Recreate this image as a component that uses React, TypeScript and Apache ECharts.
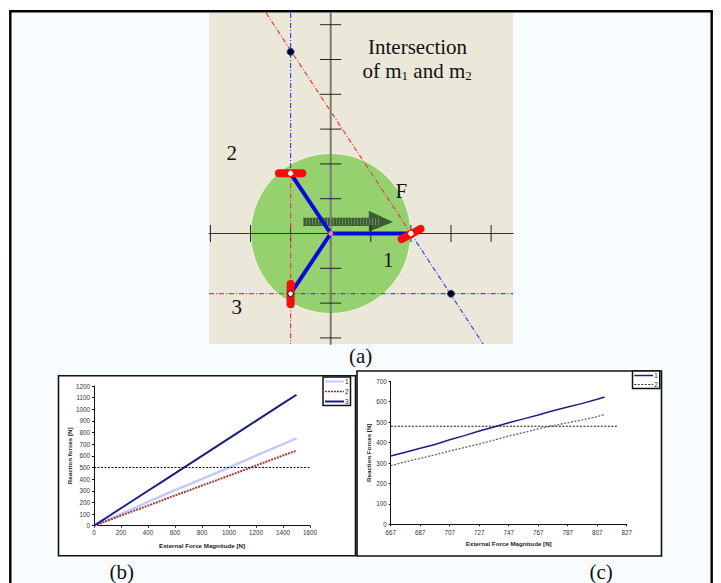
import React, { useEffect, useRef } from "react";
import * as echarts from "echarts";

// Chart (b)
const forceB = [0, 100, 200, 300, 400, 500, 600, 700, 800, 900, 1000, 1100, 1200, 1300, 1400, 1500];
const reaction1B = [0, 50, 102, 150, 205, 255, 305, 352, 402, 450, 500, 550, 602, 652, 700, 750];
const reaction2B = [0, 43, 87, 130, 172, 216, 260, 302, 345, 387, 430, 473, 517, 560, 603, 645];
const reaction3B = [0, 75, 150, 225, 300, 375, 450, 525, 600, 675, 750, 825, 900, 975, 1050, 1125];
const limitB = [[0, 500], [1600, 500]];

// Chart (c)
const forceC = [667, 677, 687, 697, 707, 717, 727, 737, 747, 757, 767, 777, 787, 797, 807, 812];
const reaction1C = [334, 353, 372, 391, 414, 434, 457, 476, 497, 516, 535, 556, 574, 592, 612, 623];
const reaction2C = [287, 306, 323, 340, 359, 376, 393, 412, 432, 449, 467, 483, 497, 511, 527, 538];
const limitC = [[660, 480], [821, 480]];
const ticksC = [667, 687, 707, 727, 747, 767, 787, 807, 827];

// Diagram (a), in axis units
const diagramXTicks = [-3, -2, -1, 1, 2, 3, 4];
const diagramYTicks = [-3, -2, -1, 1, 2, 3, 4, 5, 6];
const center = [0, 0];
const joint1 = [2, 0];
const joint2 = [-1, 1.73];
const joint3 = [-1, -1.73];
const slider1 = [[1.77, -0.16], [2.24, 0.13]];
const slider2 = [[-1.29, 1.73], [-0.71, 1.73]];
const slider3 = [[-1, -1.45], [-1, -2.03]];
const intersections = [[-1, 5.22], [3, -1.73]];
const redGuides = [
  [[-1, 1.73], [-1, -3.175]],
  [[-3.035, -1.73], [-1, -1.73]],
  [[-1.61, 6.336], [2, 0]],
];
const blueGuides = [
  [[-1, 6.336], [-1, 1.73]],
  [[-1, -1.73], [4.546, -1.73]],
  [[2, 0], [3.8, -3.175]],
];
const arrowOutline = [
  [-0.69, 0.454], [0.95, 0.454], [0.95, 0.655], [1.55, 0.33],
  [0.95, 0.05], [0.95, 0.216], [-0.69, 0.216],
];
const arrowHatch = [[-0.69, 0.335], [1.2, 0.335]];

const SANS = "Liberation Sans";
const SERIF = "Liberation Serif";

function guide(name: string, data: number[][], color: string, extra: object = {}) {
  return {
    type: "line", name, data, xAxisIndex: 2, yAxisIndex: 2, symbol: "none", silent: true,
    lineStyle: { color, width: 1.2, type: [5, 2, 1, 2] }, z: 4, ...extra,
  };
}

function thick(name: string, data: number[][], color: string, width: number, z: number) {
  return {
    type: "line", name, data, xAxisIndex: 2, yAxisIndex: 2, symbol: "none", silent: true, z,
    lineStyle: { color, width, cap: "round", type: "solid" },
  };
}

function dots(name: string, data: number[][], size: number, fill: string, stroke: string, z: number) {
  return {
    type: "scatter", name, data, xAxisIndex: 2, yAxisIndex: 2, symbol: "circle", symbolSize: size,
    silent: true, z, itemStyle: { color: fill, borderColor: stroke, borderWidth: 1, opacity: 1 },
  };
}

const plainNumber = (v: number) => String(v);

function chartAxis(gridIndex: number, name: string, nameGap: number, extra: object) {
  return {
    type: "value", gridIndex, name, nameLocation: "middle", nameGap,
    nameTextStyle: { fontFamily: SANS, fontSize: 6.2, fontWeight: "bold", color: "#222" },
    axisLine: { show: true, onZero: false, lineStyle: { color: "#111", width: 1 } },
    axisTick: { show: true, length: 2, lineStyle: { color: "#111", width: 1 } },
    axisLabel: { fontFamily: SANS, fontSize: 6.3, color: "#333", margin: 4, formatter: plainNumber },
    splitLine: { show: false },
    ...extra,
  };
}

function zip(xs: number[], ys: number[]) {
  return xs.map((x, i) => [x, ys[i]]);
}

function chartLine(name: string, data: number[][], axis: number, color: string, width: number, type: any = "solid") {
  return {
    type: "line", name, data, xAxisIndex: axis, yAxisIndex: axis, symbol: "none", z: 5,
    lineStyle: { color, width, type }, itemStyle: { color },
  };
}

const hiddenSymbol = { color: "transparent", borderWidth: 0, opacity: 0 };

function legendBase(left: number, top: number, gap: number) {
  return {
    show: true, left, top, orient: "vertical", itemWidth: 19, itemHeight: 6, itemGap: gap,
    padding: [1.5, 2, 1, 1], align: "left", backgroundColor: "#fff", borderColor: "#111", borderWidth: 1.5,
    borderRadius: 0, selectedMode: false, z: 20,
    textStyle: { fontFamily: SANS, fontSize: 6.3, color: "#222", padding: [0, 0, 0, -4] },
  };
}

const option: any = {
  animation: false,
  backgroundColor: "#ffffff",
  grid: [
    { left: 94, top: 386, width: 216, height: 139.7, containLabel: false },
    { left: 390.7, top: 381.3, width: 236, height: 143, containLabel: false },
    { left: 209, top: 13, width: 304, height: 331, show: true, backgroundColor: "#ebe8d9", borderWidth: 0 },
  ],
  xAxis: [
    chartAxis(0, "External Force Magnitude [N]", 17, { min: 0, max: 1600, interval: 200 }),
    chartAxis(1, "External Force Magnitude [N]", 16, {
      min: 667, max: 827,
      axisTick: { show: true, length: 2, customValues: ticksC, lineStyle: { color: "#111", width: 1 } },
      axisLabel: { fontFamily: SANS, fontSize: 6.3, color: "#333", margin: 5, customValues: ticksC, formatter: plainNumber },
    }),
    { type: "value", gridIndex: 2, min: -3.035, max: 4.546, show: false },
  ],
  yAxis: [
    chartAxis(0, "Reaction forces [N]", 21, { min: 0, max: 1200, interval: 100 }),
    chartAxis(1, "Reaction Forces [N]", 19, { min: 0, max: 700, interval: 100 }),
    { type: "value", gridIndex: 2, min: -3.175, max: 6.336, show: false },
  ],
  legend: [
    {
      ...legendBase(323, 377, 4),
      data: [
        { name: "1", itemStyle: hiddenSymbol, lineStyle: { color: "#c6c9f7", width: 2, type: "solid" } },
        { name: "2", itemStyle: hiddenSymbol, lineStyle: { color: "#a02828", width: 1.5, type: [2, 1] } },
        { name: "3", itemStyle: hiddenSymbol, lineStyle: { color: "#1a1f86", width: 2, type: "solid" } },
      ],
    },
    {
      ...legendBase(632.5, 371, 3),
      data: [
        { name: "1", itemStyle: hiddenSymbol, lineStyle: { color: "#1a1f86", width: 1.5, type: "solid" } },
        { name: "2", itemStyle: hiddenSymbol, lineStyle: { color: "#333", width: 1, type: [2, 1.5] } },
      ],
    },
  ],
  series: [
    // (b)
    chartLine("1", zip(forceB, reaction1B), 0, "#c6c9f7", 2.5),
    chartLine("2", zip(forceB, reaction2B), 0, "#a83a3a", 2, [2, 1]),
    chartLine("3", zip(forceB, reaction3B), 0, "#1a1f86", 2),
    chartLine("limit b", limitB, 0, "#111", 1, [2, 1.5]),
    // (c)
    chartLine("1", zip(forceC, reaction1C), 1, "#1a1f86", 1.5),
    chartLine("2", zip(forceC, reaction2C), 1, "#666", 1.3, [2, 1.5]),
    { ...chartLine("limit c", limitC, 1, "#111", 1, [2, 1.5]), clip: false },
    // (a)
    {
      type: "scatter", name: "workspace", data: [center], xAxisIndex: 2, yAxisIndex: 2, symbol: "circle",
      symbolSize: 160, silent: true, z: 2,
      itemStyle: { color: "#96d170", borderColor: "#f4f6e6", borderWidth: 1, opacity: 1 },
    },
    {
      type: "custom", name: "force", data: [center], xAxisIndex: 2, yAxisIndex: 2, silent: true, z: 3, clip: false,
      renderItem: (_p: any, api: any) => ({
        type: "polygon",
        shape: { points: arrowOutline.map((pt) => api.coord(pt)) },
        style: { fill: "#3d5c34" },
      }),
    },
    {
      type: "line", name: "force hatch", data: arrowHatch, xAxisIndex: 2, yAxisIndex: 2, symbol: "none", silent: true, z: 3,
      lineStyle: { color: "#6d8d5c", width: 7, type: [1, 2] },
    },
    thick("x axis", [[-3.035, 0], [4.546, 0]], "#333", 1, 3),
    thick("y axis", [[0, -3.175], [0, 6.336]], "#7a7a72", 2, 3),
    {
      type: "scatter", name: "x ticks", data: diagramXTicks.map((x) => [x, 0]), xAxisIndex: 2, yAxisIndex: 2,
      symbol: "rect", symbolSize: [1, 17], silent: true, z: 3, itemStyle: { color: "#222", opacity: 1 },
    },
    {
      type: "scatter", name: "y ticks", data: diagramYTicks.map((y) => [0, y]), xAxisIndex: 2, yAxisIndex: 2,
      symbol: "rect", symbolSize: [21, 1], silent: true, z: 3, itemStyle: { color: "#222", opacity: 1 },
    },
    ...redGuides.map((g, i) => guide("red guide " + i, g, "#f23a3a")),
    ...blueGuides.map((g, i) => guide("blue guide " + i, g, "#3a48ee")),
    thick("link 1", [center, joint1], "#0a0ad8", 4, 6),
    thick("link 2", [center, joint2], "#0a0ad8", 4, 6),
    thick("link 3", [center, joint3], "#0a0ad8", 4, 6),
    thick("slider 1", slider1, "#f80d0d", 8, 7),
    thick("slider 2", slider2, "#f80d0d", 8, 7),
    thick("slider 3", slider3, "#f80d0d", 8, 7),
    dots("joint 1", [joint1], 4.5, "#fff", "#fff", 8),
    dots("joint 2", [joint2], 4.5, "#fff", "#fff", 8),
    dots("joint 3", [joint3], 5.5, "#fff", "#111", 8),
    dots("centre", [center], 4, "#f08a8a", "#f08a8a", 8),
    dots("intersections", intersections, 7, "#000", "#2b3bd0", 8),
  ],
  graphic: [
    {
      type: "rect", z: -10, silent: true,
      shape: { x: 10.3, y: 11.2, width: 701.4, height: 640 },
      style: { fill: "#f8fcff", stroke: "#000", lineWidth: 2.4 },
    },
    {
      type: "rect", z: -9, silent: true,
      shape: { x: 58.5, y: 375.7, width: 297, height: 180 },
      style: { fill: "#fff", stroke: "#111", lineWidth: 1.6 },
    },
    {
      type: "rect", z: -9, silent: true,
      shape: { x: 357, y: 371, width: 304.5, height: 185 },
      style: { fill: "#fff", stroke: "#111", lineWidth: 1.6 },
    },
    ...[
      ["Intersection", 368, 47],
      ["2", 226.5, 153],
      ["3", 231.5, 307],
      ["1", 383, 260],
      ["F", 395.5, 191],
      ["(a)", 349, 356],
      ["(b)", 109.5, 572],
      ["(c)", 589.5, 572],
    ].map(([text, x, y]) => ({
      type: "text", z: 50, silent: true, x, y,
      style: { text, fontFamily: SERIF, fontSize: 21, fill: "#111", verticalAlign: "middle" },
    })),
    {
      type: "text", z: 50, silent: true, x: 362.5, y: 71,
      style: {
        text: "of m{s|1} and m{s|2}", fontFamily: SERIF, fontSize: 21, fill: "#111", verticalAlign: "middle",
        rich: { s: { fontFamily: SERIF, fontSize: 13, fill: "#111", padding: [9, 0, 0, 0] } },
      },
    },
  ],
};

export default function App() {
  const ref = useRef<HTMLDivElement>(null);
  useEffect(() => {
    document.body.style.margin = "0";
    const chart = echarts.init(ref.current!, undefined, { renderer: "svg" });
    chart.setOption(option);
    return () => chart.dispose();
  }, []);
  return <div ref={ref} style={{ width: 721, height: 583, overflow: "hidden" }} />;
}
